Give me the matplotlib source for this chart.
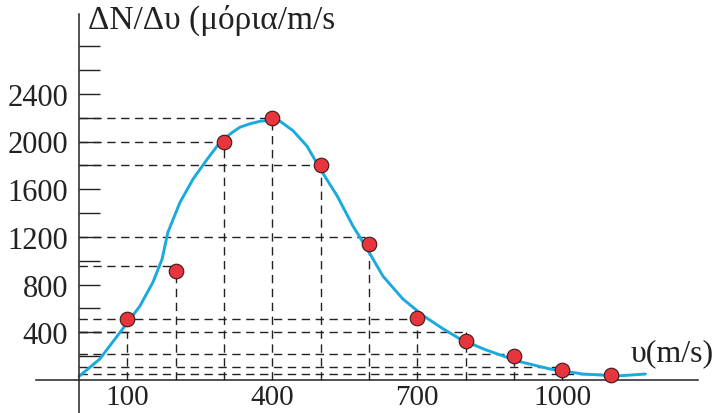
import numpy as np
import matplotlib
matplotlib.use("Agg")
import matplotlib.pyplot as plt

plt.rcParams["font.family"] = ["Liberation Serif", "DejaVu Serif"]

# measured points (speed m/s, particles per m/s)
speed = [100, 200, 300, 400, 500, 600, 700, 800, 900, 1000, 1100]
counts = [510, 910, 2000, 2200, 1800, 1140, 520, 330, 200, 80, 40]
# levels of the dashed guide lines at each speed
guide = [400, 960, 2000, 2200, 1800, 1200, 510, 400, 220, 110, 50]

# fitted curve
curve_v = [0, 43, 85, 126, 153, 172, 184, 209, 236, 265, 292, 315, 333, 355,
           375, 401, 416, 443, 472, 499, 534, 567, 596, 629, 670, 712, 753,
           788, 837, 906, 975, 1043, 1114, 1172]
curve_n = [30, 176, 400, 620, 820, 1015, 1240, 1490, 1685, 1850, 1995, 2070,
           2120, 2150, 2170, 2180, 2170, 2090, 1960, 1770, 1545, 1290, 1100,
           870, 680, 540, 430, 345, 260, 160, 92, 50, 34, 50]

y_ticks = list(range(200, 2801, 200))
y_labels = [400, 800, 1200, 1600, 2000, 2400]
x_labels = [100, 400, 700, 1000]

fig = plt.figure(figsize=(7.16, 4.14), dpi=100)
ax = fig.add_axes([0, 0, 1, 1])
# pixel mapping: origin at (79, 381), 0.4833 px per m/s, 0.11925 px per unit
ax.set_xlim(-79 / 0.4833, (716 - 79) / 0.4833)
ax.set_ylim(-(414 - 381) / 0.11925, 381 / 0.11925)

for s in ["top", "right"]:
    ax.spines[s].set_visible(False)
ax.spines["left"].set_position(("data", 0))
ax.spines["bottom"].set_position(("data", 0))
ax.spines["left"].set_bounds(-300, 3069)
ax.spines["bottom"].set_bounds(-89, 1280)
for s in ["left", "bottom"]:
    ax.spines[s].set_linewidth(1.1)
    ax.spines[s].set_color("#222222")

ax.set_yticks(y_ticks)
ax.set_yticklabels([str(t) if t in y_labels else "" for t in y_ticks])
ax.tick_params(axis="y", direction="in", length=15, width=1.0, color="#222222",
               labelsize=22, pad=8, labelcolor="#222222")
ax.set_xticks(x_labels)
ax.set_xticklabels([str(t) for t in x_labels])
ax.tick_params(axis="x", length=0, labelsize=21, pad=3, labelcolor="#222222")

# dashed guides
for v, g in zip(speed, guide):
    ax.plot([v, v], [0, g], color="#222222", lw=1.0, ls=(0, (6, 4)), zorder=1)
    ax.plot([0, v], [g, g], color="#222222", lw=1.0, ls=(0, (6, 4)), zorder=1)

ax.plot(curve_v, curve_n, color="#1AAADF", lw=2.1, zorder=2,
        solid_capstyle="round", solid_joinstyle="round")
ax.plot(speed, counts, "o", ms=10.5, mfc="#E8343C", mec="#3a1a1a", mew=0.8, zorder=3)

ax.text(18, 2950, "ΔN/Δυ (μόρια/m/s", fontsize=24, ha="left", va="baseline",
        color="#222222")
ax.text(1142, 165, "υ(m/s)", fontsize=23, ha="left", va="baseline", color="#222222")

fig.savefig("out.png", dpi=100)
